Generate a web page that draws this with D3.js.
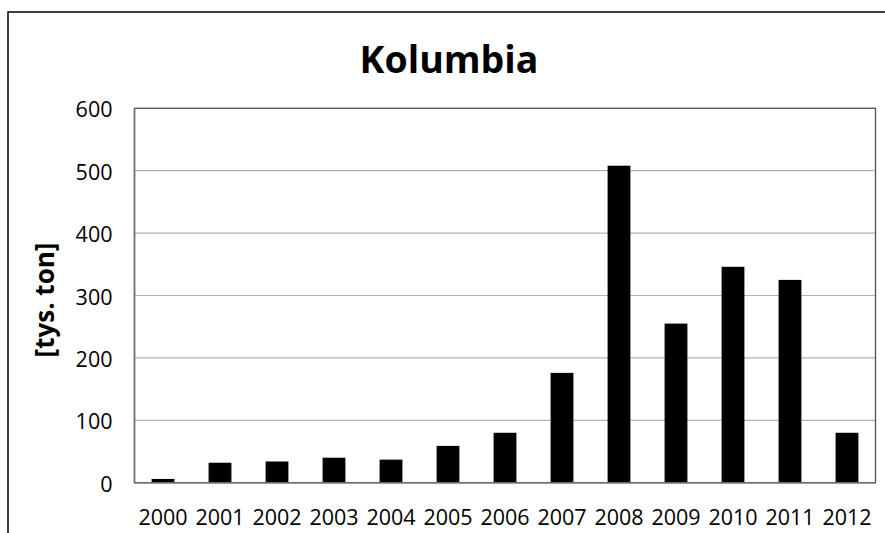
<!DOCTYPE html>
<html><head><meta charset="utf-8">
<script src="https://cdn.jsdelivr.net/npm/d3@7"></script>
<style>body{margin:0;background:#fff}svg{display:block}</style>
</head><body>
<script>
const years = ["2000","2001","2002","2003","2004","2005","2006","2007","2008","2009","2010","2011","2012"];
const values = [6, 32, 34, 40, 37, 59, 80, 176, 508, 255, 346, 325, 80];
const yTicks = [0, 100, 200, 300, 400, 500, 600];
const title = "Kolumbia";
const yLabel = "[tys. ton]";

const W = 885, H = 533;
const plot = {left: 134.5, right: 875.5, top: 108.3, bottom: 482.7};
const svg = d3.select("body").append("svg").attr("width", W).attr("height", H);

// outer frame
svg.append("rect").attr("x", 8).attr("y", 12).attr("width", 900).attr("height", 600)
  .attr("fill", "none").attr("stroke", "#000").attr("stroke-width", 1.5);

const x = d3.scaleBand().domain(years).range([plot.left, plot.right]).paddingInner(0.6).paddingOuter(0.3);
const y = d3.scaleLinear().domain([0, 600]).range([plot.bottom, plot.top]);

// gridlines
svg.append("g").selectAll("line").data(yTicks.filter(d => d > 0 && d < 600)).join("line")
  .attr("x1", plot.left).attr("x2", plot.right)
  .attr("y1", d => y(d)).attr("y2", d => y(d))
  .attr("stroke", "#b3b3b3").attr("stroke-width", 1.2);

// plot border
svg.append("rect").attr("x", plot.left).attr("y", plot.top)
  .attr("width", plot.right - plot.left).attr("height", plot.bottom - plot.top)
  .attr("fill", "none").attr("stroke", "#505050").attr("stroke-width", 1.3);

// bars
svg.append("g").selectAll("rect").data(values).join("rect")
  .attr("x", (d, i) => x(years[i]))
  .attr("width", x.bandwidth())
  .attr("y", d => y(d))
  .attr("height", d => y(0) - y(d))
  .attr("fill", "#000");

// axes lines
svg.append("line").attr("x1", plot.left).attr("x2", plot.left).attr("y1", plot.top).attr("y2", plot.bottom)
  .attr("stroke", "#6e6e6e").attr("stroke-width", 1.5);
svg.append("line").attr("x1", plot.left).attr("x2", plot.right).attr("y1", plot.bottom).attr("y2", plot.bottom)
  .attr("stroke", "#6e6e6e").attr("stroke-width", 1.5);

const font = "'Open Sans', sans-serif";
// y tick labels
const yAxis = d3.axisLeft(y).tickValues(yTicks).tickSize(0).tickPadding(22);
const gy = svg.append("g").attr("transform", `translate(${plot.left},0)`).call(yAxis);
gy.select(".domain").remove();
gy.selectAll("text").attr("font-family", font).attr("font-size", 21.5).attr("fill", "#000").attr("dy", "0.4em");

// x tick labels
const xAxis = d3.axisBottom(x).tickSize(0).tickPadding(27);
const gx = svg.append("g").attr("transform", `translate(0,${plot.bottom})`).call(xAxis);
gx.select(".domain").remove();
gx.selectAll("text").attr("font-family", font).attr("font-size", 21.5).attr("fill", "#000");

// title
svg.append("text").attr("x", 449).attr("y", 73).attr("text-anchor", "middle")
  .attr("font-family", font).attr("font-weight", "bold").attr("font-size", 37.5).text(title);

// y label
svg.append("text").attr("transform", "translate(54,300) rotate(-90)").attr("text-anchor", "middle")
  .attr("font-family", font).attr("font-weight", "bold").attr("font-size", 26).text(yLabel);
</script>
</body></html>
